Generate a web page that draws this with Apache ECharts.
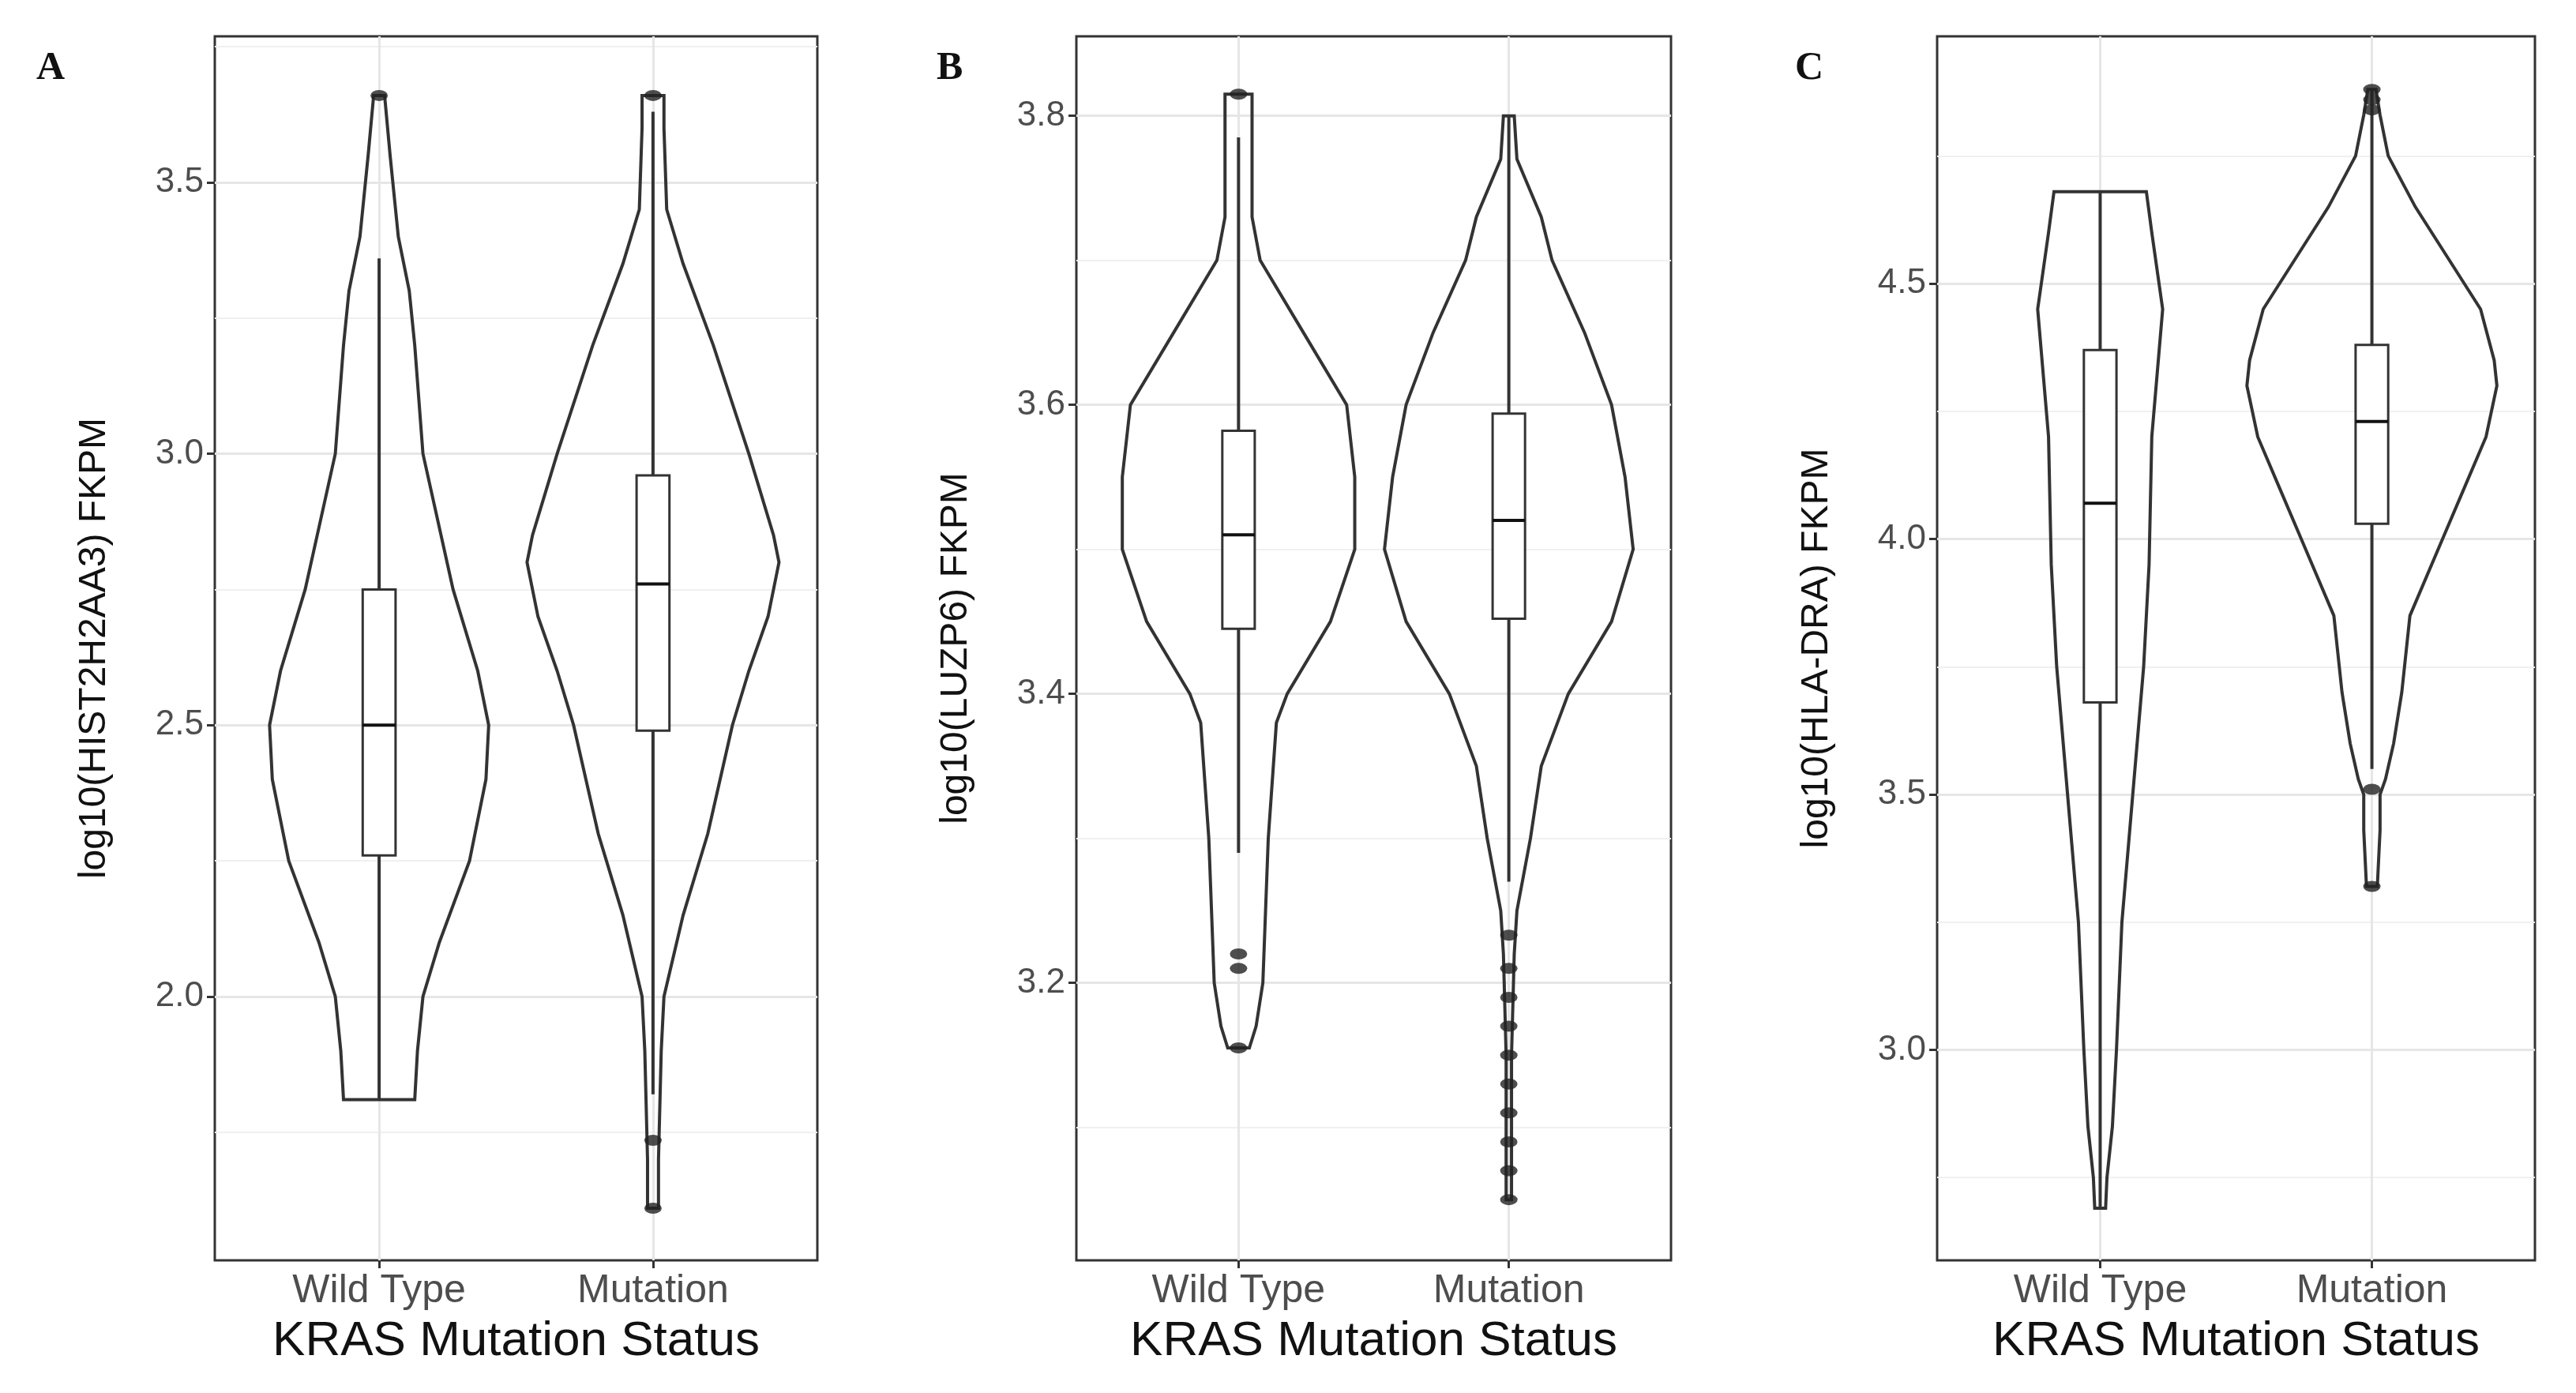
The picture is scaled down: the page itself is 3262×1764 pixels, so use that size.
<!DOCTYPE html>
<html>
<head>
<meta charset="utf-8">
<script src="https://cdn.jsdelivr.net/npm/echarts@6/dist/echarts.min.js"></script>
<style>html,body{margin:0;background:#fff}#c{width:3262px;height:1764px}</style>
</head>
<body>
<div id="c"></div>
<script>
// groups on each panel
var groups = ['Wild Type', 'Mutation'];
var panelTags = ['A', 'B', 'C'];
var yTitles = ['log10(HIST2H2AA3) FKPM', 'log10(LUZP6) FKPM', 'log10(HLA-DRA) FKPM'];

// violin profiles: [value, half width (in group units)]
var aWild = [[1.81,0.13],[1.9,0.14],[2.0,0.16],[2.1,0.22],[2.25,0.33],[2.4,0.39],[2.5,0.40],[2.6,0.36],[2.75,0.27],[3.0,0.16],[3.2,0.13],[3.3,0.11],[3.4,0.07],[3.5,0.05],[3.55,0.04],[3.66,0.02]];
var aMut = [[1.61,0.02],[1.7,0.02],[1.9,0.03],[2.0,0.04],[2.15,0.11],[2.3,0.2],[2.5,0.29],[2.6,0.35],[2.7,0.42],[2.8,0.46],[2.85,0.44],[3.0,0.35],[3.2,0.22],[3.35,0.11],[3.45,0.05],[3.6,0.04],[3.66,0.04]];
var bWild = [[3.155,0.04],[3.17,0.065],[3.2,0.09],[3.25,0.10],[3.3,0.11],[3.38,0.14],[3.4,0.18],[3.45,0.34],[3.5,0.43],[3.55,0.43],[3.6,0.40],[3.65,0.24],[3.7,0.08],[3.73,0.05],[3.77,0.05],[3.815,0.05]];
var bMut = [[3.05,0.01],[3.15,0.01],[3.22,0.02],[3.25,0.03],[3.3,0.08],[3.35,0.12],[3.4,0.22],[3.45,0.38],[3.5,0.46],[3.55,0.43],[3.6,0.38],[3.65,0.28],[3.7,0.16],[3.73,0.12],[3.77,0.03],[3.80,0.02]];
var cWild = [[2.69,0.02],[2.75,0.025],[2.85,0.045],[3.0,0.06],[3.25,0.08],[3.5,0.12],[3.75,0.16],[3.95,0.18],[4.2,0.19],[4.45,0.23],[4.6,0.19],[4.68,0.17]];
var cMut = [[3.32,0.02],[3.43,0.03],[3.5,0.03],[3.53,0.05],[3.6,0.08],[3.7,0.11],[3.85,0.14],[4.0,0.26],[4.1,0.34],[4.2,0.42],[4.3,0.46],[4.35,0.45],[4.45,0.40],[4.55,0.28],[4.65,0.16],[4.75,0.06],[4.83,0.03],[4.88,0.015]];

// boxes: [group, lower whisker, q1, median, q3, upper whisker]
var aBoxes = [[1,1.81,2.26,2.50,2.75,3.36],[2,1.82,2.49,2.76,2.96,3.63]];
var bBoxes = [[1,3.29,3.445,3.51,3.582,3.785],[2,3.27,3.452,3.52,3.594,3.80]];
var cBoxes = [[1,2.69,3.68,4.07,4.37,4.68],[2,3.55,4.03,4.23,4.38,4.88]];

// outliers: [group, value]
var aOut = [[1,3.66],[2,3.66],[2,1.735],[2,1.61]];
var bOut = [[1,3.815],[1,3.22],[1,3.21],[1,3.155],[2,3.233],[2,3.21],[2,3.19],[2,3.17],[2,3.15],[2,3.13],[2,3.11],[2,3.09],[2,3.07],[2,3.05]];
var cOut = [[2,3.51],[2,3.32],[2,4.88],[2,4.86],[2,4.84]];

// axis settings
var yRanges = [[1.514,3.769],[3.008,3.855],[2.588,4.984]];
var yMajor = [[2.0,2.5,3.0,3.5],[3.2,3.4,3.6,3.8],[3.0,3.5,4.0,4.5]];
var yMinor = [[1.75,2.25,2.75,3.25,3.75],[3.1,3.3,3.5,3.7],[2.75,3.25,3.75,4.25,4.75]];

var violins = [[aWild,aMut],[bWild,bMut],[cWild,cMut]];
var boxes = [aBoxes,bBoxes,cBoxes];
var outs = [aOut,bOut,cOut];

var gridPos = [[272,1035],[1363,2116],[2453,3210]];
var ink = '#333';

var chart = echarts.init(document.getElementById('c'));
var grids = [], xAxes = [], yAxes = [], series = [], graphics = [];

gridPos.forEach(function(g, p) {
  grids.push({left: g[0], width: g[1]-g[0], top: 46, height: 1550, show: true, borderColor: ink, borderWidth: 3, backgroundColor: '#fff'});
  xAxes.push({
    gridIndex: p, type: 'value', min: 0.4, max: 2.6,
    axisLine: {show: false}, splitLine: {show: false},
    axisTick: {show: true, customValues: [1,2], length: 10, lineStyle: {color: ink, width: 3}},
    axisLabel: {customValues: [1,2], formatter: function(v){ return groups[Math.round(v)-1]; },
      color: '#4d4d4d', fontSize: 50, fontFamily: 'Liberation Sans', margin: 14},
    name: 'KRAS Mutation Status', nameLocation: 'middle', nameGap: 72,
    nameTextStyle: {fontSize: 62, color: '#111', fontFamily: 'Liberation Sans'}
  });
  yAxes.push({
    gridIndex: p, type: 'value', min: yRanges[p][0], max: yRanges[p][1],
    axisLine: {show: false}, splitLine: {show: false},
    axisTick: {show: true, customValues: yMajor[p], length: 10, lineStyle: {color: ink, width: 3}},
    axisLabel: {customValues: yMajor[p], formatter: function(v){ return v.toFixed(1); },
      color: '#4d4d4d', fontSize: 44, fontFamily: 'Liberation Sans', margin: 14},
    name: yTitles[p], nameLocation: 'middle', nameGap: 128, nameRotate: 90,
    nameTextStyle: {fontSize: 48, color: '#111', fontFamily: 'Liberation Sans Narrow, Liberation Sans'}
  });

  // grid lines (bottom layer)
  var ml = [];
  yMajor[p].forEach(function(v){ ml.push({yAxis: v, lineStyle: {color: '#e6e6e6', width: 3, type: 'solid'}}); });
  yMinor[p].forEach(function(v){ ml.push({yAxis: v, lineStyle: {color: '#f0f0f0', width: 2, type: 'solid'}}); });
  [1,2].forEach(function(v){ ml.push({xAxis: v, lineStyle: {color: '#e6e6e6', width: 3, type: 'solid'}}); });
  series.push({type: 'line', xAxisIndex: p, yAxisIndex: p, data: [], z: 0, zlevel: 0, silent: true,
    markLine: {symbol: 'none', silent: true, label: {show: false}, animation: false, data: ml}});

  // violins
  series.push({
    type: 'custom', xAxisIndex: p, yAxisIndex: p, z: 2, zlevel: 1, silent: true,
    data: [[1,0],[2,1]],
    renderItem: function(params, api) {
      var x = api.value(0), prof = violins[p][api.value(1)];
      var pts = [];
      prof.forEach(function(d){ pts.push(api.coord([x + d[1], d[0]])); });
      for (var i = prof.length-1; i >= 0; i--) pts.push(api.coord([x - prof[i][1], prof[i][0]]));
      return {type: 'polygon', shape: {points: pts}, style: {fill: 'rgba(0,0,0,0)', stroke: ink, lineWidth: 4}};
    }
  });

  // boxes
  series.push({
    type: 'custom', xAxisIndex: p, yAxisIndex: p, z: 3, zlevel: 1, silent: true,
    data: boxes[p],
    dimensions: ['x','lo','q1','med','q3','hi'],
    encode: {x: 0, y: [1,2,3,4,5]},
    renderItem: function(params, api) {
      var b = boxes[p][params.dataIndex];
      var x = b[0], hw = 0.06;
      var lo = api.coord([x, b[1]]), hi = api.coord([x, b[5]]);
      var q1l = api.coord([x-hw, b[2]]), q3r = api.coord([x+hw, b[4]]);
      var ml = api.coord([x-hw, b[3]]), mr = api.coord([x+hw, b[3]]);
      return {type: 'group', children: [
        {type: 'polyline', z2: 1, shape: {points: [lo, hi]}, style: {fill: null, stroke: ink, lineWidth: 4}},
        {type: 'rect', z2: 2, shape: {x: q1l[0], y: q3r[1], width: q3r[0]-q1l[0], height: q1l[1]-q3r[1]}, style: {fill: '#fff', stroke: ink, lineWidth: 3}},
        {type: 'polyline', z2: 3, shape: {points: [ml, mr]}, style: {fill: null, stroke: '#111', lineWidth: 4}}
      ]};
    }
  });

  // outliers
  series.push({type: 'scatter', xAxisIndex: p, yAxisIndex: p, z: 4, zlevel: 1, silent: true,
    symbol: 'circle', symbolSize: [22, 14], itemStyle: {color: '#222'}, data: outs[p]});

  graphics.push({type: 'text', left: [46,1186,2273][p], top: 62, zlevel: 1,
    style: {text: panelTags[p], font: 'bold 50px "Liberation Serif"', fill: '#111'}});
});

chart.setOption({
  animation: false,
  grid: grids, xAxis: xAxes, yAxis: yAxes, series: series, graphic: graphics
});
</script>
</body>
</html>
